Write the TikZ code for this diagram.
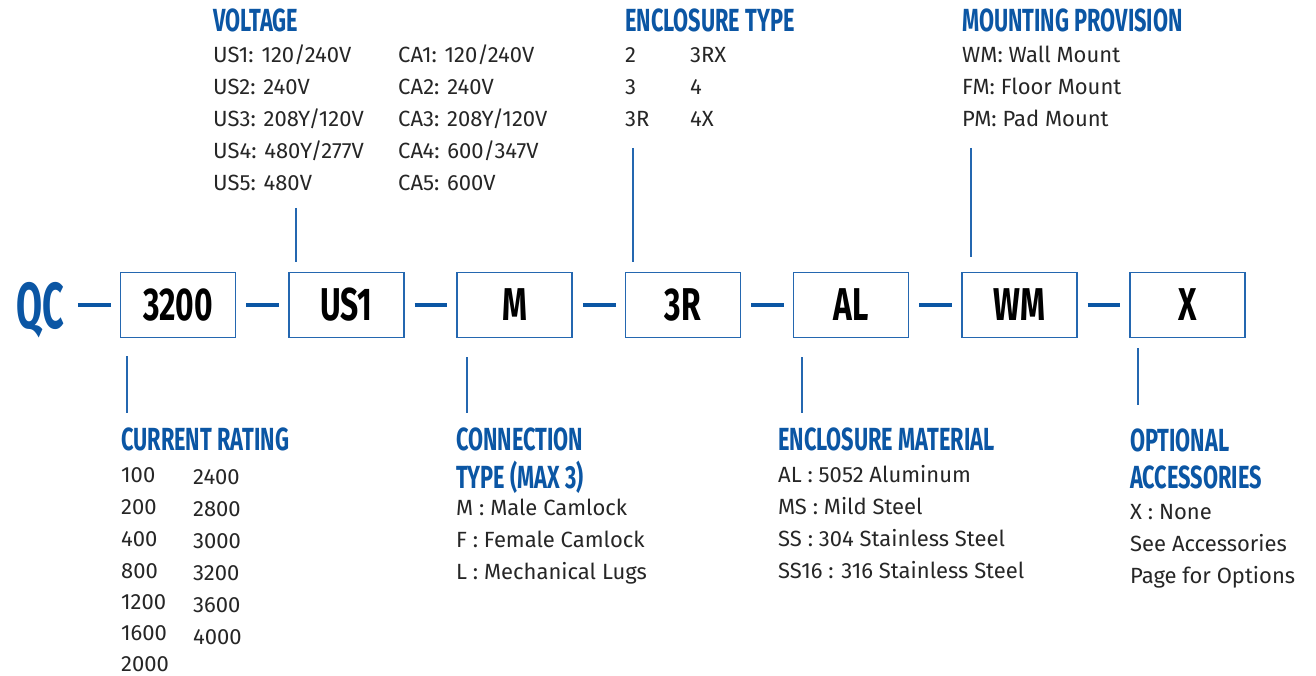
\documentclass[tikz,border=0pt]{standalone}
\usepackage{fontspec}
\setmainfont{Fira Sans}
\newfontfamily\condfont[FakeStretch=0.68]{Fira Sans}
\newfontfamily\boxfont[FakeStretch=0.69]{Fira Sans}
\newfontfamily\qcfont[FakeStretch=0.58]{Fira Sans}
\definecolor{qblue}{HTML}{0B56A4}
\definecolor{bblue}{HTML}{2467B0}
\definecolor{txt}{HTML}{262626}
\tikzset{
  body/.style={anchor=base west, inner sep=0pt, font=\fontsize{22}{24}\selectfont, text=txt},
  head/.style={anchor=base west, inner sep=0pt, font=\condfont\bfseries\fontsize{32}{34}\selectfont, text=qblue},
  codebox/.style={draw=bblue, line width=1.5pt, minimum width=115pt, minimum height=65pt, inner sep=0pt, font=\boxfont\bfseries\fontsize{46}{46}\selectfont, text=black},
  linkbar/.style={draw=qblue, line width=4pt},
  vline/.style={draw=bblue, line width=1.8pt},
}
\begin{document}
\begin{tikzpicture}[x=1pt,y=-1pt]
\useasboundingbox (0,0) rectangle (1316,676);

% code row
\node[anchor=base west, inner sep=0pt, text=qblue, font=\qcfont\bfseries\fontsize{65}{65}\selectfont] (qc) at (16,328) {QC};
\node[codebox] (b1) at (178,305) {3200};
\node[codebox] (b2) at (346.25,305) {US1};
\node[codebox] (b3) at (514.5,305) {M};
\node[codebox] (b4) at (682.75,305) {3R};
\node[codebox] (b5) at (851,305) {AL};
\node[codebox] (b6) at (1019.25,305) {WM};
\node[codebox] (b7) at (1187.5,305) {X};

\draw[linkbar] ([xshift=-42pt]b1.west) -- ([xshift=-9pt]b1.west);
\draw[linkbar] ([xshift=10pt]b1.east) -- ([xshift=-9pt]b2.west);
\draw[linkbar] ([xshift=10pt]b2.east) -- ([xshift=-9pt]b3.west);
\draw[linkbar] ([xshift=10pt]b3.east) -- ([xshift=-9pt]b4.west);
\draw[linkbar] ([xshift=10pt]b4.east) -- ([xshift=-9pt]b5.west);
\draw[linkbar] ([xshift=10pt]b5.east) -- ([xshift=-9pt]b6.west);
\draw[linkbar] ([xshift=10pt]b6.east) -- ([xshift=-9pt]b7.west);

% vertical leaders
\coordinate (t1) at (127,356); \coordinate (u1) at (127,413);
\coordinate (t2) at (296,208); \coordinate (u2) at (296,262);
\coordinate (t3) at (467,357); \coordinate (u3) at (467,413);
\coordinate (t4) at (633,148); \coordinate (u4) at (633,262);
\coordinate (t5) at (802,357); \coordinate (u5) at (802,413);
\coordinate (t6) at (971,148); \coordinate (u6) at (971,257);
\coordinate (t7) at (1138,348); \coordinate (u7) at (1138,405);
\foreach \i in {1,...,7} {\draw[vline] (t\i) -- (u\i);}

% VOLTAGE
\node[head] (hv) at (213,32) {VOLTAGE};
\node[body] (v1) at (213,63) {US1: 120/240V};
\node[body] (v2) at (213,95) {US2: 240V};
\node[body] (v3) at (213,127) {US3: 208Y/120V};
\node[body] (v4) at (213,159) {US4: 480Y/277V};
\node[body] (v5) at (213,191) {US5: 480V};
\node[body] (c1) at (398,63) {CA1: 120/240V};
\node[body] (c2) at (398,95) {CA2: 240V};
\node[body] (c3) at (398,127) {CA3: 208Y/120V};
\node[body] (c4) at (398,159) {CA4: 600/347V};
\node[body] (c5) at (398,191) {CA5: 600V};

% ENCLOSURE TYPE
\node[head] (he) at (625,32) {ENCLOSURE TYPE};
\node[body] (e1) at (625,63) {2};
\node[body] (e2) at (625,95) {3};
\node[body] (e3) at (625,127) {3R};
\node[body] (e4) at (690,63) {3RX};
\node[body] (e5) at (690,95) {4};
\node[body] (e6) at (690,127) {4X};

% MOUNTING PROVISION
\node[head] (hm) at (962,32) {MOUNTING PROVISION};
\node[body] (m1) at (962,63) {WM: Wall Mount};
\node[body] (m2) at (962,95) {FM: Floor Mount};
\node[body] (m3) at (962,127) {PM: Pad Mount};

% CURRENT RATING
\node[head] (hc) at (121,450) {CURRENT RATING};
\node[body] (r1) at (121,482) {100};
\node[body] (r2) at (121,514) {200};
\node[body] (r3) at (121,546) {400};
\node[body] (r4) at (121,578) {800};
\node[body] (r5) at (121,609) {1200};
\node[body] (r6) at (121,640) {1600};
\node[body] (r7) at (121,671) {2000};
\node[body] (s1) at (193,484) {2400};
\node[body] (s2) at (193,516) {2800};
\node[body] (s3) at (193,548) {3000};
\node[body] (s4) at (193,580) {3200};
\node[body] (s5) at (193,612) {3600};
\node[body] (s6) at (193,644) {4000};

% CONNECTION TYPE
\node[head] (hn1) at (456,450) {CONNECTION};
\node[head] (hn2) at (456,488) {TYPE (MAX 3)};
\node[body] (n1) at (456,515) {M : Male Camlock};
\node[body] (n2) at (456,547) {F : Female Camlock};
\node[body] (n3) at (456,579) {L : Mechanical Lugs};

% ENCLOSURE MATERIAL
\node[head] (hl) at (778,450) {ENCLOSURE MATERIAL};
\node[body] (l1) at (778,482) {AL : 5052 Aluminum};
\node[body] (l2) at (778,514) {MS : Mild Steel};
\node[body] (l3) at (778,546) {SS : 304 Stainless Steel};
\node[body] (l4) at (778,578) {SS16 : 316 Stainless Steel};

% OPTIONAL ACCESSORIES
\node[head] (ho1) at (1130,451) {OPTIONAL};
\node[head] (ho2) at (1130,488) {ACCESSORIES};
\node[body] (o1) at (1130,519) {X : None};
\node[body] (o2) at (1130,551) {See Accessories};
\node[body] (o3) at (1130,583) {Page for Options};
\end{tikzpicture}
\end{document}
